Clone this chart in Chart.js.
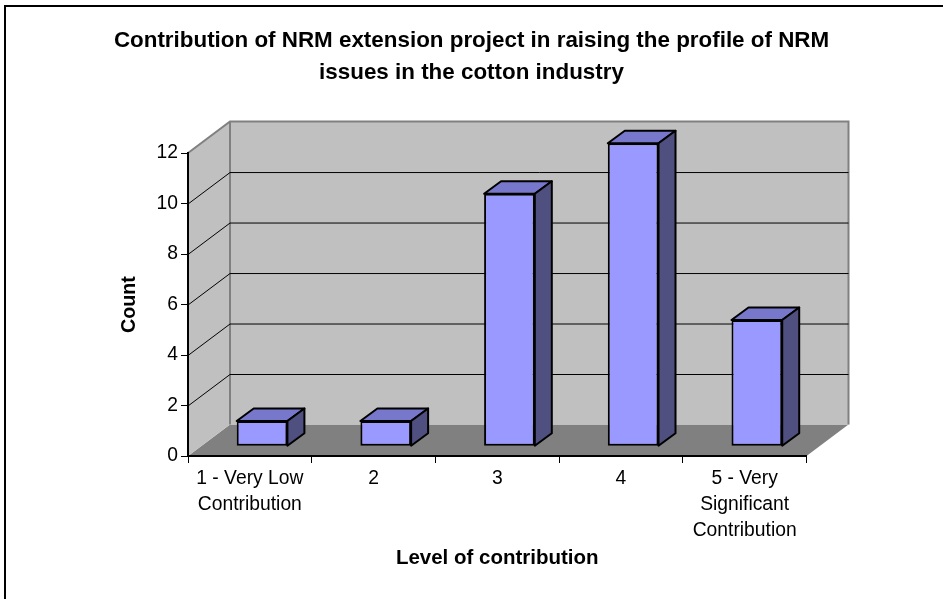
<!DOCTYPE html>
<html>
<head>
<meta charset="utf-8">
<script src="https://cdn.jsdelivr.net/npm/chart.js@4/dist/chart.umd.js"></script>
<style>
html,body{margin:0;padding:0;background:#fff;overflow:hidden}
#wrap{position:relative;width:943px;height:599px}
</style>
</head>
<body>
<div id="wrap"><canvas id="c" width="943" height="599"></canvas></div>
<script>
const titleLines = ["Contribution of NRM extension project in raising the profile of NRM", "issues in the cotton industry"];
const categories = [["1 - Very Low", "Contribution"], "2", "3", "4", ["5 - Very", "Significant", "Contribution"]];
const counts = [1, 1, 10, 12, 5];
const xAxisTitle = "Level of contribution";
const yAxisTitle = "Count";

const FONT = '"Liberation Sans", Arial, sans-serif';
const wallDepth = {x: 42, y: -31.5};
const barShift = {x: 12.2, y: -9.8};
const barDepth = {x: 17, y: -12.5};

const scene = {
  id: 'scene',
  beforeDraw(chart) {
    const {ctx, chartArea: a, scales: {y}} = chart;
    const d = wallDepth;
    ctx.save();
    ctx.strokeStyle = '#000'; ctx.lineWidth = 2;
    ctx.strokeRect(5, 6, 1000, 700);
    // floor
    ctx.fillStyle = '#808080';
    ctx.beginPath();
    ctx.moveTo(a.left, a.bottom); ctx.lineTo(a.left + d.x, a.bottom + d.y);
    ctx.lineTo(a.right + d.x, a.bottom + d.y); ctx.lineTo(a.right, a.bottom);
    ctx.closePath(); ctx.fill();
    // side wall and back wall
    ctx.fillStyle = '#C0C0C0';
    ctx.beginPath();
    ctx.moveTo(a.left, a.top); ctx.lineTo(a.left + d.x, a.top + d.y);
    ctx.lineTo(a.left + d.x, a.bottom + d.y); ctx.lineTo(a.left, a.bottom);
    ctx.closePath(); ctx.fill();
    ctx.fillRect(a.left + d.x, a.top + d.y, a.width, a.height);
    ctx.strokeStyle = '#808080'; ctx.lineWidth = 2;
    ctx.beginPath();
    ctx.moveTo(a.left, a.top); ctx.lineTo(a.left + d.x, a.top + d.y);
    ctx.lineTo(a.right + d.x, a.top + d.y); ctx.lineTo(a.right + d.x, a.bottom + d.y);
    ctx.moveTo(a.left + d.x, a.top + d.y); ctx.lineTo(a.left + d.x, a.bottom + d.y);
    ctx.stroke();
    // grid lines
    ctx.strokeStyle = '#000'; ctx.lineWidth = 1;
    ctx.beginPath();
    y.ticks.forEach(t => {
      if (t.value <= y.min || t.value >= y.max) return;
      const py = y.getPixelForValue(t.value);
      ctx.moveTo(a.left, py + .5); ctx.lineTo(a.left + d.x, py + d.y + .5);
      ctx.lineTo(a.right + d.x, py + d.y + .5);
    });
    ctx.stroke();
    ctx.restore();
  },
  beforeDatasetDraw(chart, args) {
    const {ctx} = chart;
    const b = barDepth, s = barShift;
    ctx.save();
    ctx.translate(s.x, s.y);
    ctx.lineWidth = 2; ctx.lineJoin = 'round'; ctx.strokeStyle = '#000';
    args.meta.data.forEach(el => {
      const l = el.x - el.width / 2, r = el.x + el.width / 2, t = el.y, bt = el.base;
      ctx.fillStyle = '#7777CC';
      ctx.beginPath();
      ctx.moveTo(l, t); ctx.lineTo(l + b.x, t + b.y); ctx.lineTo(r + b.x, t + b.y); ctx.lineTo(r, t);
      ctx.closePath(); ctx.fill(); ctx.stroke();
      ctx.fillStyle = '#4F4F80';
      ctx.beginPath();
      ctx.moveTo(r, t); ctx.lineTo(r + b.x, t + b.y); ctx.lineTo(r + b.x, bt + b.y); ctx.lineTo(r, bt);
      ctx.closePath(); ctx.fill(); ctx.stroke();
    });
  },
  afterDatasetDraw(chart) {
    chart.ctx.restore();
  }
};

const fixBox = (w, h) => scale => {
  if (w) scale.width = w;
  if (h) scale.height = h;
  scale.paddingTop = scale.paddingBottom = scale.paddingLeft = scale.paddingRight = 0;
};

new Chart(document.getElementById('c'), {
  type: 'bar',
  data: {
    labels: categories,
    datasets: [{
      label: yAxisTitle,
      data: counts,
      yAxisID: 'y',
      backgroundColor: '#9999FF',
      borderColor: '#000',
      borderWidth: 2,
      borderSkipped: false,
      barPercentage: 0.41,
      categoryPercentage: 1,
      clip: false
    }]
  },
  plugins: [scene],
  options: {
    responsive: false,
    animation: false,
    events: [],
    layout: {padding: {left: 0, right: 0, top: 10, bottom: 20}},
    plugins: {
      legend: {display: false},
      tooltip: {enabled: false},
      title: {
        display: true,
        text: titleLines,
        color: '#000',
        font: {family: FONT, size: 22.4, weight: 'bold', lineHeight: 1.43},
        padding: {top: 14.8, bottom: 64.2}
      }
    },
    scales: {
      x: {
        afterFit: fixBox(0, 123),
        border: {color: '#000', width: 2},
        grid: {offset: true, drawOnChartArea: false, color: '#000', tickLength: 7, lineWidth: 1},
        ticks: {color: '#000', font: {family: FONT, size: 19.3, lineHeight: 1.37}, padding: 2, maxRotation: 0, minRotation: 0, autoSkip: false},
        title: {display: true, text: xAxisTitle, color: '#000', font: {family: FONT, size: 20.5, weight: 'bold'}, padding: {top: 0, bottom: 8.7}}
      },
      y: {
        min: 0, max: 12,
        afterFit: fixBox(188, 0),
        border: {color: '#000', width: 2},
        grid: {drawOnChartArea: false, color: '#000', tickLength: 7, lineWidth: 1},
        ticks: {stepSize: 2, color: '#000', font: {family: FONT, size: 19.3}, padding: 3},
        title: {display: true, text: yAxisTitle, color: '#000', font: {family: FONT, size: 19.7, weight: 'bold'}, padding: {top: 118, bottom: 0}}
      },
      rightSpace: {
        type: 'linear',
        position: 'right',
        afterFit: fixBox(136.5, 0),
        border: {display: false},
        grid: {display: false},
        ticks: {display: false}
      }
    }
  }
});
</script>
</body>
</html>
